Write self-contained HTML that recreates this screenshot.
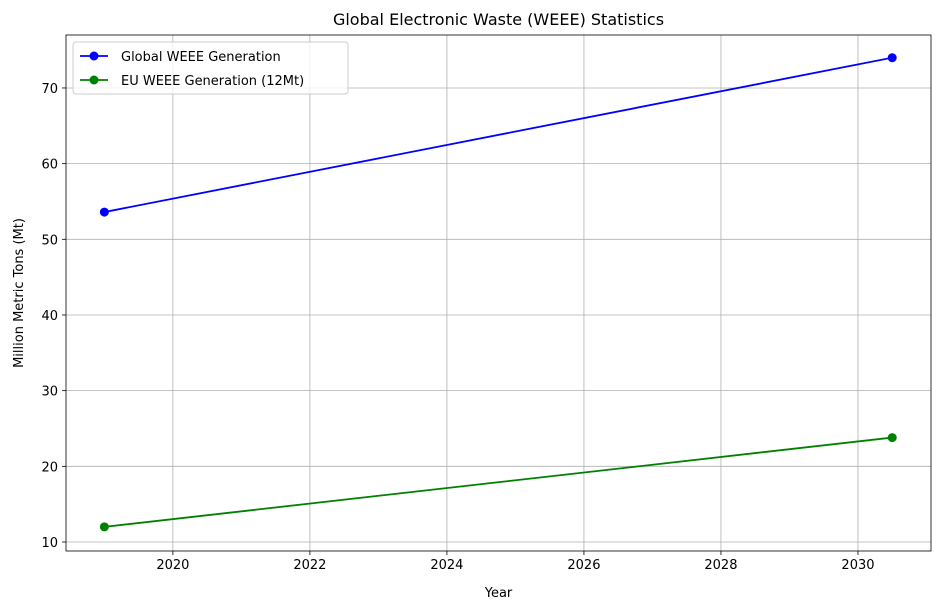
<!DOCTYPE html>
<html><head><meta charset="utf-8"><style>
body{margin:0;background:#fff;font-family:"Liberation Sans","DejaVu Sans",sans-serif;}
</style></head><body>
<svg id="chart" width="943" height="611" xmlns="http://www.w3.org/2000/svg" font-family="DejaVu Sans, Liberation Sans, sans-serif"></svg>
<script>
const years = [2019, 2030.5];
const globalValues = [53.6, 74.0];
const euValues = [12.0, 23.8];
const xTicks = [2020, 2022, 2024, 2026, 2028, 2030];
const yTicks = [10, 20, 30, 40, 50, 60, 70];

const L=66,R=931,T=35,B=551;
const xMin=2018.44,xMax=2031.066,yMin=8.81,yMax=77.0;
const X=v=>L+(v-xMin)/(xMax-xMin)*(R-L);
const Y=v=>B-(v-yMin)/(yMax-yMin)*(B-T);
const svg=document.getElementById('chart');
const NS='http://www.w3.org/2000/svg';
function el(tag,attrs,parent){const e=document.createElementNS(NS,tag);for(const k in attrs)e.setAttribute(k,attrs[k]);(parent||svg).appendChild(e);return e;}

xTicks.forEach(t=>{
  const g=el('line',{x1:X(t),x2:X(t),y1:T,y2:B,stroke:'#b0b0b0','stroke-width':0.8});
  
  
  const tk=el('line',{x1:X(t),x2:X(t),y1:B,y2:B+4,stroke:'#000','stroke-width':0.8});
  
  
  const tx=el('text',{x:X(t),y:B+18,'text-anchor':'middle','font-size':13});
  tx.textContent=t;
  
  
});
yTicks.forEach(t=>{
  const g=el('line',{x1:L,x2:R,y1:Y(t),y2:Y(t),stroke:'#b0b0b0','stroke-width':0.8});
  
  
  const tk=el('line',{x1:L-4,x2:L,y1:Y(t),y2:Y(t),stroke:'#000','stroke-width':0.8});
  
  
  const tx=el('text',{x:L-8,y:Y(t)+5,'text-anchor':'end','font-size':13});
  tx.textContent=t;
  
  
});

function series(vals,color,name){
  const p=el('polyline',{points:years.map((y,i)=>X(y)+','+Y(vals[i])).join(' '),fill:'none',stroke:color,'stroke-width':1.8});
  
  
  years.forEach((y,i)=>{
    const c=el('circle',{cx:X(y),cy:Y(vals[i]),r:4.5,fill:color});
    
    
  });
}
series(globalValues,'#0000ff','global-weee');
series(euValues,'#008000','eu-weee');

const frame=el('rect',{x:L,y:T,width:R-L,height:B-T,fill:'none',stroke:'#000','stroke-width':0.8});



const title=el('text',{x:(L+R)/2,y:25,'text-anchor':'middle','font-size':16});
title.textContent='Global Electronic Waste (WEEE) Statistics';


const xt=el('text',{x:(L+R)/2,y:597,'text-anchor':'middle','font-size':13});
xt.textContent='Year';


const yt=el('text',{x:0,y:0,'text-anchor':'middle','font-size':13,transform:'translate(23,'+((T+B)/2)+') rotate(-90)'});
yt.textContent='Million Metric Tons (Mt)';



const lg=el('g',{});


el('rect',{x:73,y:42,width:275,height:52,rx:3,fill:'#fff','fill-opacity':0.8,stroke:'#ccc'},lg);
[['Global WEEE Generation','#0000ff',56],['EU WEEE Generation (12Mt)','#008000',80]].forEach(([t,c,y])=>{
  const g=el('g',{},lg);
  
  
  el('line',{x1:80,x2:108,y1:y,y2:y,stroke:c,'stroke-width':1.8},g);
  el('circle',{cx:94,cy:y,r:4.5,fill:c},g);
  const tx=el('text',{x:121,y:y+5,'font-size':13},g);
  tx.textContent=t;
});
</script>
</body></html>
